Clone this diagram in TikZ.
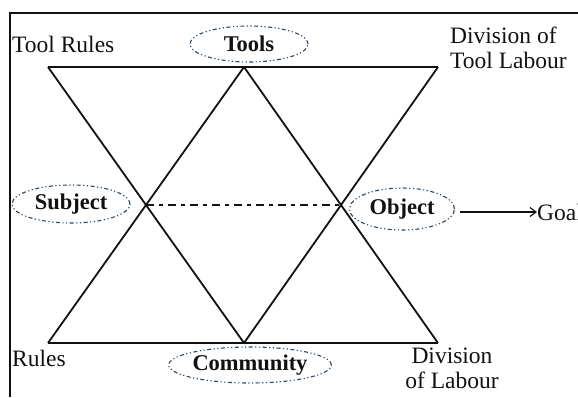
\documentclass[tikz,border=0pt]{standalone}
\usepackage{fontspec}
\setmainfont{Liberation Serif}
\usetikzlibrary{shapes.geometric, positioning, arrows.meta, calc}
\definecolor{atInk}{HTML}{111111}
\definecolor{atOval}{HTML}{2B4760}

\begin{document}
\begin{tikzpicture}[
    x=1pt, y=-1pt,
    edge/.style={draw=atInk, line width=1.8pt},
    oval/.style={
        ellipse, draw=atOval, line width=1.1pt,
        dash pattern=on 4pt off 2.5pt on 1.2pt off 2.5pt on 1.2pt off 2.5pt,
        font=\fontsize{22.5}{24}\selectfont\bfseries, text=atInk, inner sep=0pt
    },
    lbl/.style={font=\fontsize{23.5}{25}\selectfont, text=atInk, inner sep=0pt}
]
\useasboundingbox (0,0) rectangle (578,397);

% === Frame ===
\draw[atInk, line width=1.8pt] (10,397) -- (10,13) -- (578,13);

% === Corner points of the figure ===
\coordinate (tl) at (48,67);
\coordinate (tm) at (244,67);
\coordinate (tr) at (438,67);
\coordinate (bl) at (48,343);
\coordinate (bm) at (244,343);
\coordinate (br) at (438,343);
\coordinate (sub) at (146,205);
\coordinate (obj) at (341,205);

% === Triangles ===
\draw[edge] (tl) -- (tr);
\draw[edge] (bl) -- (br);
\draw[edge] (tl) -- (bm);
\draw[edge] (tm) -- (bl);
\draw[edge] (tm) -- (br);
\draw[edge] (tr) -- (bm);

% Subject -- Object link
\draw[atInk, line width=2.2pt, dash pattern=on 8pt off 5pt on 4pt off 5pt] (sub) -- (obj);

% === Ovals ===
\node[oval, minimum width=118pt, minimum height=36pt] (tools) at (249,44) {Tools};
\node[oval, minimum width=118pt, minimum height=38pt] (subject) at (71,204) {Subject};
\node[oval, minimum width=105pt, minimum height=42pt] (object) at (402,209) {Object};
\node[oval, minimum width=150pt, minimum height=36pt] (community) at (250,365) {Community};

% === Corner labels ===
\node[lbl, anchor=west] (toolrules) at (12,44) {Tool Rules};
\node[lbl, anchor=west, align=left] (tooldiv) at (450,48) {Division of\\Tool Labour};
\node[lbl, anchor=west] (rules) at (12,358) {Rules};
\node[lbl, align=center] (labdiv) at (452,368) {Division\\of Labour};

% Goal
\node[lbl, anchor=west] (goal) at (537,212) {Goal};
\draw[atInk, line width=1.2pt, -{Straight Barb[length=6pt, width=9pt]}] (object.east |- 0,212) ++(5,0) -- (goal.west);

\end{tikzpicture}
\end{document}
